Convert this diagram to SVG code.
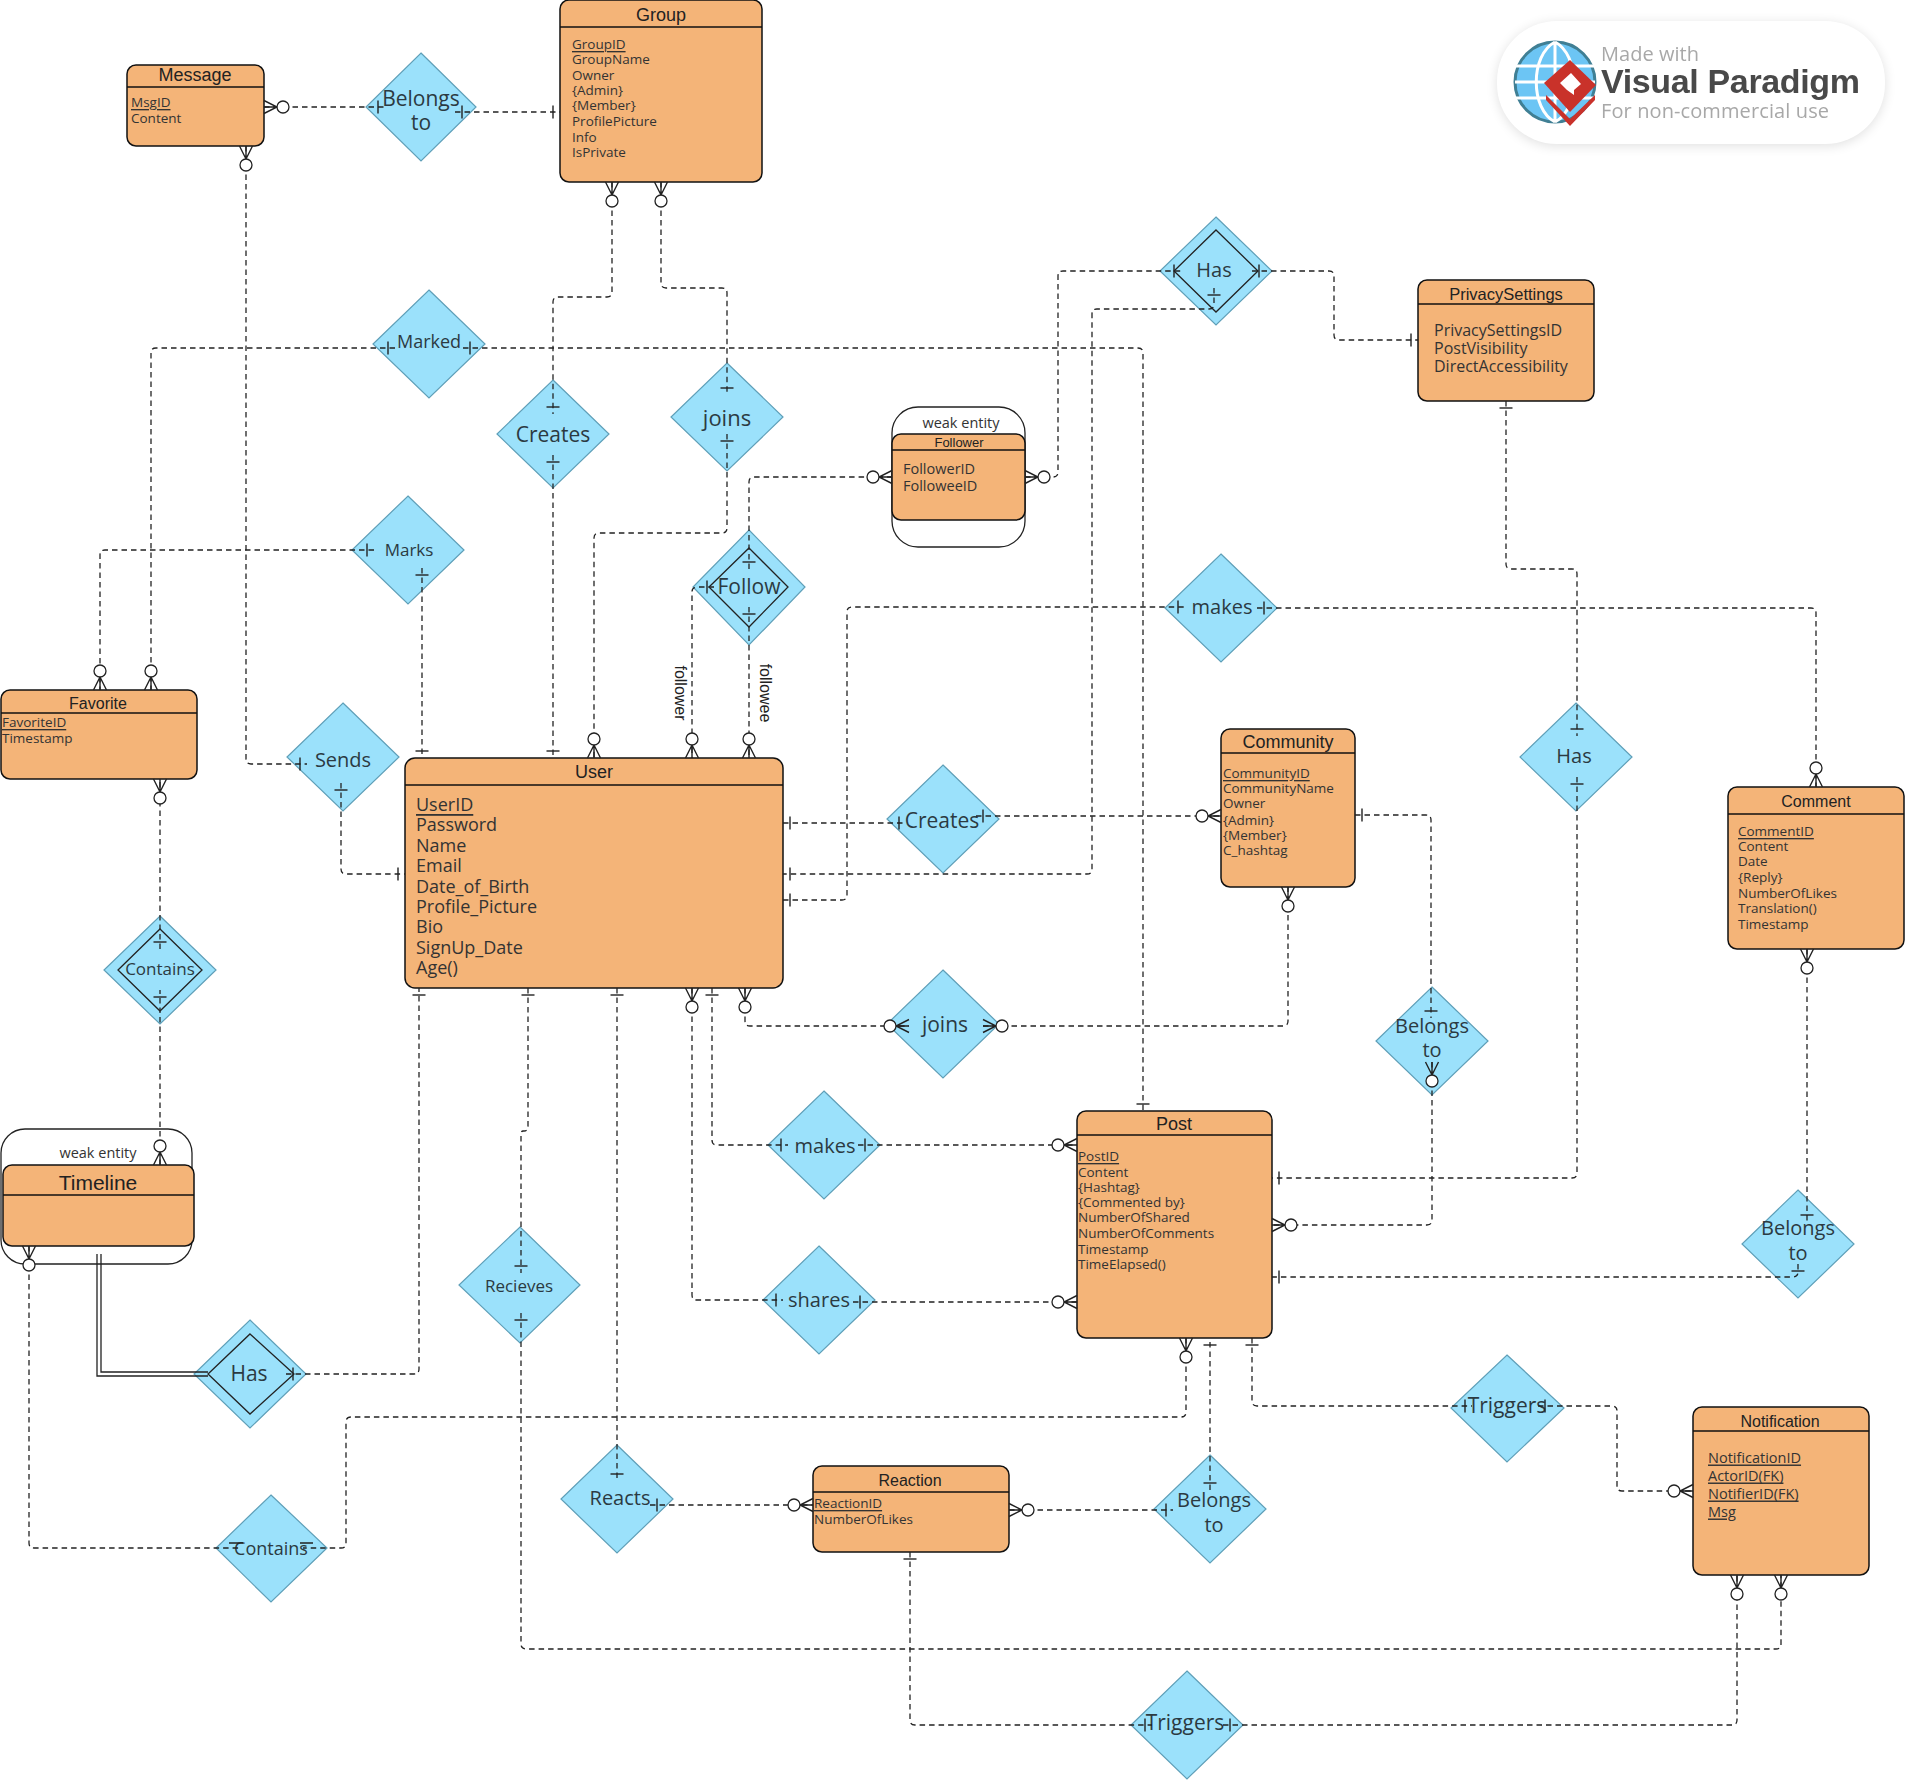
<svg xmlns="http://www.w3.org/2000/svg" width="1905" height="1780" viewBox="0 0 1905 1780">
<style>
text{font-family:"Open Sans","Liberation Sans",sans-serif;fill:#333;dominant-baseline:central}
.e{fill:#f4b478;stroke:#111;stroke-width:1.5}
.h{stroke:#111;stroke-width:1.3;fill:none}
.w{fill:#fff;stroke:#222;stroke-width:1.3}
.d{fill:#9be1fb;stroke:#5f9fb8;stroke-width:1.2}
.di{fill:none;stroke:#222;stroke-width:1.3}
.t{font-family:"Liberation Sans",Arial,sans-serif;text-anchor:middle;fill:#222}
.l{text-anchor:middle;fill:#2b3a42}
.s13{font-size:13.5px}
.s14{font-size:14.5px}
.s16{font-size:16px}
.s18{font-size:18px}
.u{text-decoration:underline}
.c path{fill:none;stroke:#222;stroke-width:1.3;stroke-dasharray:5.5 4}
.mm{fill:#fff;stroke:#222;stroke-width:1.3}
.tk{stroke:#222;stroke-width:1.4;fill:none}
</style>
<defs>
<marker id="one" markerUnits="userSpaceOnUse" markerWidth="30" markerHeight="30" refX="15" refY="15" viewBox="0 0 30 30" orient="auto-start-reverse" overflow="visible"><path class="tk" d="M8 8.5V21.5"/></marker>
<marker id="many" markerUnits="userSpaceOnUse" markerWidth="50" markerHeight="30" refX="40" refY="15" viewBox="0 0 50 30" orient="auto-start-reverse" overflow="visible"><path class="tk" d="M40 8.5L27 15L40 21.5M27 15H40"/><circle class="mm" cx="21" cy="15" r="6"/></marker>
<filter id="sh" x="-10%" y="-20%" width="120%" height="140%"><feGaussianBlur stdDeviation="6"/></filter>
<filter id="soft"><feGaussianBlur stdDeviation="0.5"/></filter>
</defs>

<g id="logo">
<rect x="1497" y="23" width="388" height="123" rx="60" fill="#000" opacity=".12" filter="url(#sh)"/>
<rect x="1497" y="21" width="388" height="123" rx="60" fill="#fff"/>
<g filter="url(#soft)">
<circle cx="1555" cy="82" r="40" fill="#6cc5f4" stroke="#3f7f94" stroke-width="3"/>
<path d="M1516 66H1594M1516 98H1594M1515 82H1595M1555 42V122M1555 42C1530 55 1530 109 1555 122M1555 42C1580 55 1580 109 1555 122" fill="none" stroke="#fff" stroke-width="3"/>
<path d="M1546 95L1570 119L1595 95V100L1570 126L1546 100Z" fill="#c9302c"/>
<path d="M1544 83L1570 60L1596 85L1570 112Z" fill="#c9302c"/>
<path d="M1560 83L1571 73L1581 84L1574 90V95L1567 90Z" fill="#fff"/>
<text x="1601" y="53" font-size="20" style="fill:#a8a8a8" textLength="98">Made with</text>
<text x="1601" y="81" font-size="34" font-weight="700" style="fill:#4a4a4a;font-family:'Liberation Sans',sans-serif" textLength="259">Visual Paradigm</text>
<text x="1601" y="110" font-size="20" style="fill:#a8a8a8" textLength="228">For non-commercial use</text>
</g>
</g>

<g id="message"><rect class="e" x="127" y="65" width="137" height="81" rx="9"/><path class="h" d="M127 87H264" stroke-width="2"/><text class="t s18" x="195" y="75">Message</text><text class="s13 u" x="131" y="102">MsgID</text><text class="s13" x="131" y="118">Content</text></g>
<g id="group"><rect class="e" x="560" y="0" width="202" height="182" rx="9"/><path class="h" d="M560 27H762"/><text class="t s18" x="661" y="15">Group</text>
<text class="s13 u" x="572" y="44">GroupID</text><text class="s13" x="572" y="59">GroupName</text><text class="s13" x="572" y="75">Owner</text><text class="s13" x="572" y="90">{Admin}</text><text class="s13" x="572" y="105">{Member}</text><text class="s13" x="572" y="121">ProfilePicture</text><text class="s13" x="572" y="137">Info</text><text class="s13" x="572" y="152">IsPrivate</text></g>
<g id="privacy"><rect class="e" x="1418" y="280" width="176" height="121" rx="9"/><path class="h" d="M1418 304H1594"/><text class="t" font-size="16.5" x="1506" y="294">PrivacySettings</text><text class="s16" x="1434" y="330">PrivacySettingsID</text><text class="s16" x="1434" y="348">PostVisibility</text><text class="s16" x="1434" y="366">DirectAccessibility</text></g>
<g id="follower"><rect class="w" x="892" y="407" width="133" height="140" rx="26"/><text class="s14" x="961" y="422" text-anchor="middle">weak entity</text><rect class="e" x="892" y="434" width="133" height="86" rx="9"/><path class="h" d="M892 450H1025"/><text class="t" font-size="13" x="959" y="442">Follower</text><text class="s14" x="903" y="468">FollowerID</text><text class="s14" x="903" y="485">FolloweeID</text></g>
<g id="favorite"><rect class="e" x="1" y="690" width="196" height="89" rx="9"/><path class="h" d="M1 713H197"/><text class="t s16" x="98" y="703">Favorite</text><text class="s13 u" x="2" y="722">FavoriteID</text><text class="s13" x="2" y="738">Timestamp</text></g>
<g id="user"><rect class="e" x="405" y="758" width="378" height="230" rx="10"/><path class="h" d="M405 785H783"/><text class="t s18" x="594" y="772">User</text>
<text class="s18 u" x="416" y="804">UserID</text><text class="s18" x="416" y="824">Password</text><text class="s18" x="416" y="845">Name</text><text class="s18" x="416" y="865">Email</text><text class="s18" x="416" y="886">Date_of_Birth</text><text class="s18" x="416" y="906">Profile_Picture</text><text class="s18" x="416" y="926">Bio</text><text class="s18" x="416" y="947">SignUp_Date</text><text class="s18" x="416" y="967">Age()</text></g>
<g id="community"><rect class="e" x="1221" y="729" width="134" height="158" rx="9"/><path class="h" d="M1221 753H1355"/><text class="t s18" x="1288" y="742">Community</text>
<text class="s13 u" x="1223" y="773">CommunityID</text><text class="s13" x="1223" y="788">CommunityName</text><text class="s13" x="1223" y="803">Owner</text><text class="s13" x="1223" y="820">{Admin}</text><text class="s13" x="1223" y="835">{Member}</text><text class="s13" x="1223" y="850">C_hashtag</text></g>
<g id="comment"><rect class="e" x="1728" y="787" width="176" height="162" rx="9"/><path class="h" d="M1728 814H1904"/><text class="t s16" x="1816" y="801">Comment</text>
<text class="s13 u" x="1738" y="831">CommentID</text><text class="s13" x="1738" y="846">Content</text><text class="s13" x="1738" y="861">Date</text><text class="s13" x="1738" y="877">{Reply}</text><text class="s13" x="1738" y="893">NumberOfLikes</text><text class="s13" x="1738" y="908">Translation()</text><text class="s13" x="1738" y="924">Timestamp</text></g>
<g id="post"><rect class="e" x="1077" y="1111" width="195" height="227" rx="9"/><path class="h" d="M1077 1135H1272"/><text class="t s18" x="1174" y="1124">Post</text>
<text class="s13 u" x="1078" y="1156">PostID</text><text class="s13" x="1078" y="1172">Content</text><text class="s13" x="1078" y="1187">{Hashtag}</text><text class="s13" x="1078" y="1202">{Commented by}</text><text class="s13" x="1078" y="1217">NumberOfShared</text><text class="s13" x="1078" y="1233">NumberOfComments</text><text class="s13" x="1078" y="1249">Timestamp</text><text class="s13" x="1078" y="1264">TimeElapsed()</text></g>
<g id="timeline"><rect class="w" x="1" y="1129" width="191" height="135" rx="24"/><text class="s14" x="98" y="1152" text-anchor="middle">weak entity</text><rect class="e" x="3" y="1165" width="191" height="81" rx="9"/><path class="h" d="M3 1195H194"/><text class="t" font-size="21" x="98" y="1182">Timeline</text></g>
<g id="notification"><rect class="e" x="1693" y="1407" width="176" height="168" rx="9"/><path class="h" d="M1693 1431H1869"/><text class="t s16" x="1780" y="1421">Notification</text>
<text class="s14 u" x="1708" y="1457">NotificationID</text><text class="s14 u" x="1708" y="1475">ActorID(FK)</text><text class="s14 u" x="1708" y="1493">NotifierID(FK)</text><text class="s14 u" x="1708" y="1511">Msg</text></g>
<g id="reaction"><rect class="e" x="813" y="1466" width="196" height="86" rx="9"/><path class="h" d="M813 1492H1009"/><text class="t s16" x="910" y="1480">Reaction</text><text class="s13 u" x="814" y="1503">ReactionID</text><text class="s13" x="814" y="1519">NumberOfLikes</text></g>

<g id="r-belongs-group"><path class="d" d="M421 53L476 107L421 161L366 107Z"/><text class="l" font-size="21" x="421" y="98">Belongs</text><text class="l" font-size="21" x="421" y="122">to</text></g>
<g id="r-marked"><path class="d" d="M429 290L485 344L429 398L373 344Z"/><text class="l" font-size="18" x="429" y="341">Marked</text></g>
<g id="r-creates-group"><path class="d" d="M553 380L609 434L553 488L497 434Z"/><text class="l" font-size="21" x="553" y="434">Creates</text></g>
<g id="r-joins-group"><path class="d" d="M727 363L783 417L727 471L671 417Z"/><text class="l" font-size="22" x="727" y="417">joins</text></g>
<g id="r-has-privacy"><path class="d" d="M1216 217L1272 271L1216 325L1160 271Z"/><path class="di" d="M1216 230L1258 271L1216 312L1174 271Z"/><text class="l" font-size="20" x="1214" y="269">Has</text></g>
<g id="r-marks"><path class="d" d="M408 496L464 550L408 604L352 550Z"/><text class="l" font-size="17" x="409" y="549">Marks</text></g>
<g id="r-follow"><path class="d" d="M749 530L805 587L749 645L693 587Z"/><path class="di" d="M749 548L788 587L749 627L709 587Z"/><text class="l" font-size="21" x="749" y="586">Follow</text></g>
<g id="r-makes-comment"><path class="d" d="M1221 554L1277 608L1221 662L1165 608Z"/><text class="l" font-size="20" x="1222" y="606">makes</text></g>
<g id="r-sends"><path class="d" d="M343 703L399 757L343 811L287 757Z"/><text class="l" font-size="20" x="343" y="759">Sends</text></g>
<g id="r-creates-community"><path class="d" d="M943 765L999 819L943 873L887 819Z"/><text class="l" font-size="21" x="942" y="820">Creates</text></g>
<g id="r-has-post"><path class="d" d="M1576 703L1632 757L1576 811L1520 757Z"/><text class="l" font-size="20" x="1574" y="755">Has</text></g>
<g id="r-joins-community"><path class="d" d="M943 970L999 1024L943 1078L887 1024Z"/><text class="l" font-size="21" x="945" y="1024">joins</text></g>
<g id="r-belongs-community"><path class="d" d="M1432 987L1488 1041L1432 1095L1376 1041Z"/><text class="l" font-size="20" x="1432" y="1025">Belongs</text><text class="l" font-size="20" x="1432" y="1049">to</text></g>
<g id="r-contains-timeline"><path class="d" d="M160 916L216 970L160 1024L104 970Z"/><path class="di" d="M160 929L202 970L160 1011L118 970Z"/><text class="l" font-size="17" x="160" y="968">Contains</text></g>
<g id="r-makes-post"><path class="d" d="M824 1091L880 1145L824 1199L768 1145Z"/><text class="l" font-size="20" x="825" y="1145">makes</text></g>
<g id="r-shares"><path class="d" d="M819 1246L875 1300L819 1354L763 1300Z"/><text class="l" font-size="20" x="819" y="1299">shares</text></g>
<g id="r-belongs-comment"><path class="d" d="M1798 1190L1854 1244L1798 1298L1742 1244Z"/><text class="l" font-size="20" x="1798" y="1227">Belongs</text><text class="l" font-size="20" x="1798" y="1252">to</text></g>
<g id="r-recieves"><path class="d" d="M520 1227L580 1285L520 1343L459 1285Z"/><text class="l" font-size="17" x="519" y="1285">Recieves</text></g>
<g id="r-has-timeline"><path class="d" d="M250 1320L306 1374L250 1428L194 1374Z"/><path class="di" d="M250 1334L294 1374L250 1414L208 1374Z"/><text class="l" font-size="21" x="249" y="1373">Has</text></g>
<g id="r-triggers-post"><path class="d" d="M1507 1355L1564 1408L1507 1462L1451 1408Z"/><text class="l" font-size="21" x="1507" y="1405">Triggers</text></g>
<g id="r-reacts"><path class="d" d="M617 1445L673 1499L617 1553L561 1499Z"/><text class="l" font-size="20" x="620" y="1497">Reacts</text></g>
<g id="r-belongs-reaction"><path class="d" d="M1210 1455L1266 1509L1210 1563L1154 1509Z"/><text class="l" font-size="20" x="1214" y="1499">Belongs</text><text class="l" font-size="20" x="1214" y="1524">to</text></g>
<g id="r-contains-post"><path class="d" d="M271 1495L327 1548L271 1602L216 1548Z"/><text class="l" font-size="18" x="271" y="1548">Contains</text></g>
<g id="r-triggers-reaction"><path class="d" d="M1187 1671L1243 1725L1187 1779L1131 1725Z"/><text class="l" font-size="21" x="1185" y="1722">Triggers</text></g>

<g id="connectors" class="c">
<path marker-start="url(#many)" marker-end="url(#one)" d="M264 107H385"/>
<path marker-start="url(#one)" marker-end="url(#one)" d="M455 112H560"/>
<path marker-start="url(#many)" marker-end="url(#one)" d="M246 146V759Q246 764 251 764H307"/>
<path marker-start="url(#many)" marker-end="url(#one)" d="M612 182V292Q612 297 607 297H558Q553 297 553 302V414"/>
<path marker-start="url(#many)" marker-end="url(#one)" d="M661 182V283Q661 288 666 288H722Q727 288 727 293V395"/>
<path marker-start="url(#one)" marker-end="url(#one)" d="M553 455V758"/>
<path marker-start="url(#one)" marker-end="url(#many)" d="M727 434V528Q727 533 722 533H599Q594 533 594 538V758"/>
<path marker-start="url(#one)" marker-end="url(#many)" d="M749 569V482Q749 477 754 477H892"/>
<path marker-start="url(#many)" marker-end="url(#one)" d="M1025 477H1053Q1058 477 1058 472V276Q1058 271 1063 271H1181"/>
<path marker-start="url(#one)" marker-end="url(#many)" d="M714 587H697Q692 587 692 592V758"/>
<path marker-start="url(#one)" marker-end="url(#many)" d="M749 607V758"/>
<path marker-start="url(#one)" marker-end="url(#one)" d="M1252 271H1329Q1334 271 1334 276V335Q1334 340 1339 340H1418"/>
<path marker-start="url(#one)" marker-end="url(#one)" d="M1214 288V304Q1214 309 1209 309H1097Q1092 309 1092 314V869Q1092 874 1087 874H783"/>
<path marker-start="url(#one)" marker-end="url(#many)" d="M395 348H156Q151 348 151 353V690"/>
<path marker-start="url(#one)" marker-end="url(#one)" d="M463 348H1138Q1143 348 1143 353V1111"/>
<path marker-start="url(#one)" marker-end="url(#many)" d="M374 550H105Q100 550 100 555V690"/>
<path marker-start="url(#one)" marker-end="url(#one)" d="M422 568V758"/>
<path marker-start="url(#one)" marker-end="url(#one)" d="M341 783V869Q341 874 346 874H405"/>
<path marker-start="url(#one)" marker-end="url(#one)" d="M783 823H906"/>
<path marker-start="url(#one)" marker-end="url(#many)" d="M976 816H1221"/>
<path marker-start="url(#one)" marker-end="url(#one)" d="M783 900H842Q847 900 847 895V612Q847 607 852 607H1185"/>
<path marker-start="url(#one)" marker-end="url(#many)" d="M1257 608H1811Q1816 608 1816 613V787"/>
<path marker-start="url(#one)" marker-end="url(#one)" d="M1506 401V564Q1506 569 1511 569H1572Q1577 569 1577 574V736"/>
<path marker-start="url(#one)" marker-end="url(#one)" d="M1577 777V1173Q1577 1178 1572 1178H1272"/>
<path marker-start="url(#one)" marker-end="url(#one)" d="M1355 815H1426Q1431 815 1431 820V1018"/>
<path marker-start="url(#many)" marker-end="url(#many)" d="M1432 1062V1220Q1432 1225 1427 1225H1272"/>
<path marker-start="url(#many)" marker-end="url(#many)" d="M745 988V1021Q745 1026 750 1026H909"/>
<path marker-start="url(#many)" marker-end="url(#many)" d="M983 1026H1283Q1288 1026 1288 1021V887"/>
<path marker-start="url(#one)" marker-end="url(#one)" d="M712 988V1140Q712 1145 717 1145H788"/>
<path marker-start="url(#one)" marker-end="url(#many)" d="M858 1145H1077"/>
<path marker-start="url(#many)" marker-end="url(#one)" d="M692 988V1295Q692 1300 697 1300H783"/>
<path marker-start="url(#one)" marker-end="url(#many)" d="M853 1302H1077"/>
<path marker-start="url(#many)" marker-end="url(#one)" d="M1807 949V1222"/>
<path marker-start="url(#one)" marker-end="url(#one)" d="M1798 1264V1272Q1798 1277 1793 1277H1272"/>
<path marker-start="url(#many)" d="M1186 1338V1412Q1186 1417 1181 1417H351Q346 1417 346 1422V1543Q346 1548 341 1548H303"/>
<path marker-start="url(#many)" d="M29 1246V1543Q29 1548 34 1548H240"/>
<path marker-start="url(#many)" marker-end="url(#one)" d="M160 1165V990"/>
<path marker-start="url(#one)" marker-end="url(#many)" d="M160 949V779"/>
<path style="stroke-dasharray:none" d="M97 1254V1376H208M101 1254V1372H208"/>
<path marker-start="url(#one)" marker-end="url(#one)" d="M286 1374H414Q419 1374 419 1369V988"/>
<path marker-start="url(#one)" marker-end="url(#one)" d="M528 988V1126Q528 1131 524 1131H523Q521 1131 521 1135V1273"/>
<path marker-start="url(#one)" marker-end="url(#many)" d="M521 1313V1644Q521 1649 526 1649H1776Q1781 1649 1781 1644V1575"/>
<path marker-start="url(#one)" marker-end="url(#one)" d="M617 988V1481"/>
<path marker-start="url(#one)" marker-end="url(#many)" d="M650 1505H813"/>
<path marker-start="url(#many)" marker-end="url(#one)" d="M1009 1510H1173"/>
<path marker-start="url(#one)" marker-end="url(#one)" d="M1210 1490V1338"/>
<path marker-start="url(#one)" marker-end="url(#one)" d="M1252 1338V1401Q1252 1406 1257 1406H1472"/>
<path marker-start="url(#one)" marker-end="url(#many)" d="M1538 1406H1612Q1617 1406 1617 1411V1486Q1617 1491 1622 1491H1693"/>
<path marker-start="url(#one)" marker-end="url(#one)" d="M910 1552V1720Q910 1725 915 1725H1152"/>
<path marker-start="url(#one)" marker-end="url(#many)" d="M1223 1725H1732Q1737 1725 1737 1720V1575"/>
<path class="tk" style="stroke-dasharray:none" d="M229 1543H243M300 1543H313"/>
</g>
<text class="t s16" transform="translate(680 693) rotate(90)">follower</text>
<text class="t s16" transform="translate(765 693) rotate(90)">followee</text>
</svg>
